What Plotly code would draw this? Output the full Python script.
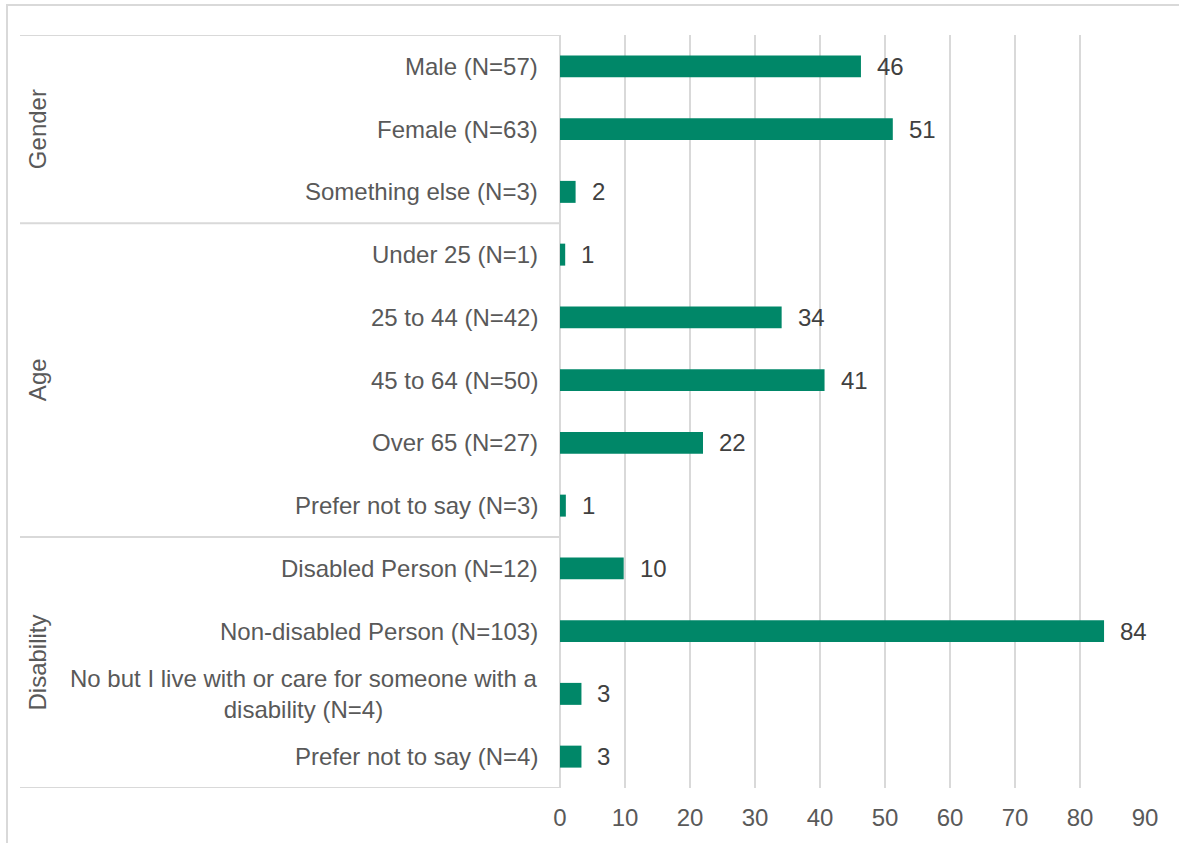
import plotly.graph_objects as go

categories = [
    "Male (N=57)", "Female (N=63)", "Something else (N=3)",
    "Under 25 (N=1)", "25 to 44 (N=42)", "45 to 64 (N=50)", "Over 65 (N=27)", "Prefer not to say (N=3)",
    "Disabled Person (N=12)", "Non-disabled Person (N=103)",
    "No but I live with or care for someone with a<br>disability (N=4)", "Prefer not to say (N=4)",
]
values = [46.3, 51.2, 2.4, 0.8, 34.1, 40.7, 22.0, 0.9, 9.8, 83.7, 3.3, 3.3]
groups = ["Gender", "Age", "Disability"]
group_sizes = [3, 5, 4]
x_ticks = [0, 10, 20, 30, 40, 50, 60, 70, 80, 90]

FONT = "Liberation Sans, Arial, sans-serif"
GRID = "#d9d9d9"
BAR = "#008768"
FS = 24
W, H = 1179, 843
ML, MR, MT, MB = 560, 34, 35, 55
PW = W - ML - MR
PH = H - MT - MB

def px_to_paper_x(px):
    return (px - ML) / PW

def py_to_paper_y(py):
    return (H - MB - py) / PH

fig = go.Figure()
fig.add_trace(go.Bar(
    x=values, y=list(range(len(categories))), orientation="h",
    marker=dict(color=BAR, line=dict(width=0)), width=0.35,
    hoverinfo="x", showlegend=False,
))

annotations = []
for i, (c, v) in enumerate(zip(categories, values)):
    annotations.append(dict(
        x=px_to_paper_x(540), xref="paper", y=i, yref="y",
        text=c, showarrow=False, xanchor="right", yanchor="middle", align="center",
        font=dict(family=FONT, size=FS, color="#595959"),
    ))
    annotations.append(dict(
        x=v, xref="x", y=i, yref="y", text=str(round(v)), showarrow=False,
        xanchor="left", yanchor="middle", xshift=14,
        font=dict(family=FONT, size=FS, color="#404040"),
    ))

shapes = []
start = 0
sep_positions = [-0.5]
for g, n in zip(groups, group_sizes):
    center = start + (n - 1) / 2
    annotations.append(dict(
        x=px_to_paper_x(37), xref="paper", y=center, yref="y", text=g,
        showarrow=False, textangle=-90, xanchor="center", yanchor="middle",
        font=dict(family=FONT, size=FS, color="#595959"),
    ))
    start += n
    sep_positions.append(start - 0.5)

for s in sep_positions:
    shapes.append(dict(type="line", xref="paper", yref="y",
                       x0=px_to_paper_x(20), x1=0, y0=s, y1=s,
                       line=dict(color=GRID, width=2)))

shapes.append(dict(type="rect", xref="paper", yref="paper",
                   x0=px_to_paper_x(7), x1=px_to_paper_x(1185),
                   y0=py_to_paper_y(850), y1=py_to_paper_y(5),
                   line=dict(color=GRID, width=2), fillcolor="rgba(0,0,0,0)", layer="below"))

fig.update_layout(
    width=W, height=H, autosize=False,
    margin=dict(l=ML, r=MR, t=MT, b=MB, pad=0),
    paper_bgcolor="white", plot_bgcolor="white",
    font=dict(family=FONT, size=FS, color="#595959"),
    annotations=annotations, shapes=shapes,
    xaxis=dict(range=[0, 90], tickvals=x_ticks, ticktext=[str(t) for t in x_ticks],
               showgrid=True, gridcolor=GRID, gridwidth=1.5,
               zeroline=True, zerolinecolor=GRID, zerolinewidth=2,
               showline=False, ticks="outside", ticklen=8, tickcolor="rgba(0,0,0,0)",
               tickfont=dict(family=FONT, size=FS, color="#595959")),
    yaxis=dict(range=[len(categories) - 0.5, -0.5], showticklabels=False,
               showgrid=False, zeroline=False, showline=False, fixedrange=True),
)

fig.write_html("out.html", config={"displayModeBar": False},
               post_script="document.body.style.margin='0';document.body.style.overflow='hidden';")
